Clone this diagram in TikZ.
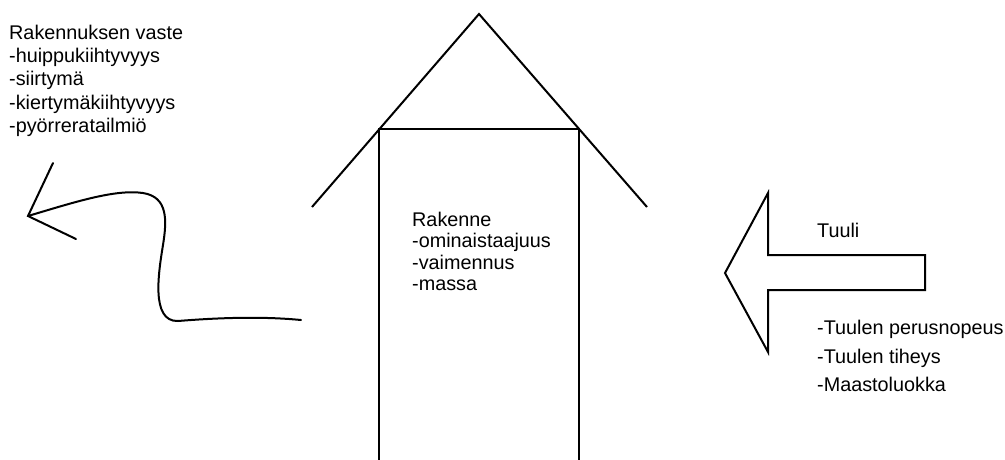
\documentclass[tikz,border=0pt]{standalone}
\usepackage{fontspec}
\setmainfont{Liberation Sans}
\tikzset{
  stroke/.style={line width=2pt, line join=miter, draw=black},
  lbl/.style={inner sep=0pt, anchor=north west, align=left},
}
\begin{document}
\begin{tikzpicture}[x=1pt,y=-1pt]
\useasboundingbox (0,0) rectangle (1005,459);
% building
\coordinate (apex) at (479,14);
\coordinate (rl) at (312,207);
\coordinate (rr) at (647,207);
\coordinate (tl) at (379,129);
\coordinate (tr) at (579,129);
\coordinate (bl) at (379,462);
\coordinate (br) at (579,462);
\draw[stroke] (rl) -- (apex) -- (rr);
\draw[stroke] (bl) -- (tl) -- (tr) -- (br);
% wind arrow
\coordinate (wt) at (725,273);
\coordinate (wh1) at (768,193);
\coordinate (ws1) at (768,255);
\coordinate (ws2) at (925,255);
\coordinate (ws3) at (925,290);
\coordinate (ws4) at (768,290);
\coordinate (wh2) at (768,352);
\draw[stroke] (wt) -- (wh1) -- (ws1) -- (ws2) -- (ws3) -- (ws4) -- (wh2) -- cycle;
% wavy response arrow
\coordinate (rtip) at (28,216);
\coordinate (rb1) at (53,163);
\coordinate (rb2) at (76,239);
\coordinate (rend) at (301,320);
\draw[stroke, line cap=round] (rb1) -- (rtip) -- (rb2);
\draw[stroke, line cap=round] (rtip) .. controls (75,202) and (115,189) .. (143,193)
  .. controls (168,197) and (167,220) .. (163,245)
  .. controls (159,270) and (150,322) .. (178,321)
  .. controls (215,318) and (260,316) .. (rend);
% texts
\node[lbl, font=\fontsize{19.8}{23.2}\selectfont] (resp) at (9,25)
  {Rakennuksen vaste\\-huippukiihtyvyys\\-siirtymä\\-kiertymäkiihtyvyys\\-pyörreratailmiö};
\node[lbl, font=\fontsize{19.8}{21.3}\selectfont] (struct) at (412,212)
  {Rakenne\\-ominaistaajuus\\-vaimennus\\-massa};
\node[lbl, font=\fontsize{19.8}{23}\selectfont] (wind) at (817,223) {Tuuli};
\node[lbl, font=\fontsize{19.8}{28.5}\selectfont] (windp) at (817,320)
  {-Tuulen perusnopeus\\-Tuulen tiheys\\-Maastoluokka};
\end{tikzpicture}
\end{document}
